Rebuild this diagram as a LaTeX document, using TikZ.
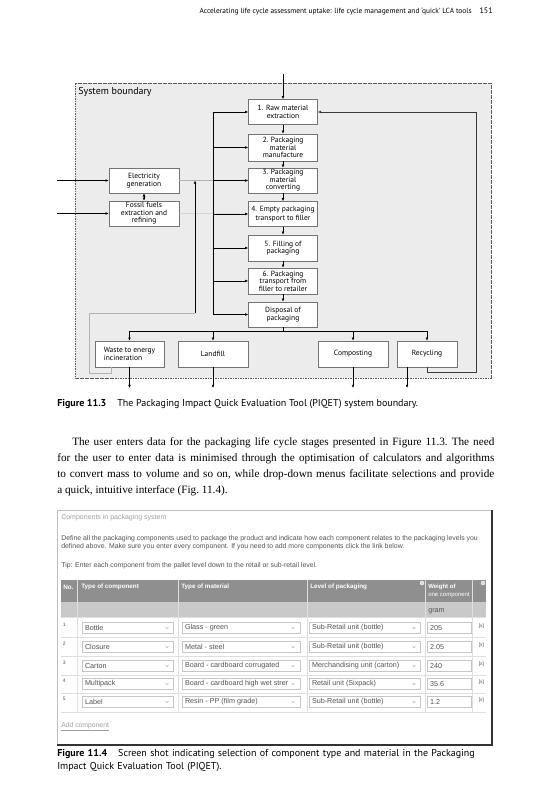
\documentclass[tikz,border=0pt]{standalone}
\usepackage{fontspec}
\setmainfont{Liberation Serif}
\setsansfont{PT Sans}
\newfontfamily\shotfont{Liberation Sans}
\usepackage{tikz}
\usetikzlibrary{arrows.meta,positioning}
\definecolor{bound}{gray}{0.925}
\definecolor{boxline}{gray}{0.45}
\definecolor{shottext}{gray}{0.33}
\definecolor{shothead}{gray}{0.56}
\definecolor{shotsub}{gray}{0.79}
\tikzstyle{stage}=[rectangle,draw=boxline,fill=white,minimum width=69pt,minimum height=25pt,inner sep=1pt,align=center,font=\sffamily\fontsize{7.5}{7.6}\selectfont]
\tikzstyle{feed}=[draw=gray!60,line width=1pt]
\tikzstyle{menu}=[rectangle,draw=gray!45,fill=white,minimum height=11pt,inner sep=0pt]
\tikzstyle{cell}=[font=\shotfont\fontsize{7.2}{7.5}\selectfont,text=shottext,anchor=west,inner sep=0pt]
\tikzstyle{headcell}=[font=\shotfont\bfseries\fontsize{6.3}{6.8}\selectfont,text=white,anchor=west,inner sep=0pt,align=left]

\begin{document}
\begin{tikzpicture}[x=1pt,y=-1pt,>={Latex[length=3.2pt,width=2.8pt]},line width=0.6pt]
\useasboundingbox (0,0) rectangle (548,800);

% running head
\node[anchor=east,inner sep=0pt,font=\sffamily\fontsize{7.4}{8}\selectfont] (head) at (472,11) {Accelerating life cycle assessment uptake: life cycle management and ‘quick’ LCA tools};
\node[anchor=east,inner sep=0pt,font=\sffamily\fontsize{8}{8}\selectfont] (folio) at (493,11) {151};

% system boundary
\draw[fill=bound,draw=gray!70!black,dash pattern=on 1.6pt off 0.9pt,line width=0.5pt] (75,83) rectangle (491,378);
\node[anchor=north west,inner sep=0pt,font=\sffamily\fontsize{10}{12}\selectfont] (sb) at (78,87) {System boundary};

% life cycle stages
\node[stage] (s1) at (283,112) {1. Raw material\\extraction};
\node[stage,minimum height=27pt] (s2) at (283,147.5) {2. Packaging\\material\\manufacture};
\node[stage] (s3) at (283,180.5) {3. Packaging\\material\\converting};
\node[stage] (s4) at (283,214) {4. Empty packaging\\[2pt]transport to filler};
\node[stage,minimum height=26pt] (s5) at (283,248) {5. Filling of\\packaging};
\node[stage,minimum height=26pt] (s6) at (283,281) {6. Packaging\\transport from\\filler to retailer};
\node[stage] (disp) at (283,314.5) {Disposal of\\packaging};

\node[stage,minimum width=70pt] (elec) at (144,180.5) {Electricity\\generation};
\node[stage,minimum width=70pt] (fossil) at (144,213.5) {Fossil fuels\\extraction and\\refining};

\node[stage,minimum height=26pt,align=left] (waste) at (129.5,354) {Waste to energy\\incineration};
\node[stage,minimum height=26pt,minimum width=70pt] (landfill) at (213,354) {Landfill};
\node[stage,minimum height=26pt,minimum width=70pt] (compost) at (353,354) {Composting};
\node[stage,minimum height=26pt,minimum width=60pt] (recycle) at (427,354) {Recycling};

% helper points
\coordinate (src) at (283,74);
\coordinate (bus) at (213,0);
\coordinate (inlet) at (57,0);
\coordinate (split) at (283,331);
\coordinate (outlet) at (0,388);
\coordinate (ret) at (89,313);
\coordinate (up) at (195,313);
\coordinate (loop) at (476,372);

% main chain
\draw[->] (src) -- (s1);
\draw[->] (s1) -- (s2);
\draw[->] (s2) -- (s3);
\draw[->] (s3) -- (s4);
\draw[->] (s4) -- (s5);
\draw[->] (s5) -- (s6);
\draw[->] (s6) -- (disp);

% energy inputs
\draw[->] (inlet |- elec.west) -- (elec.west);
\draw[->] (inlet |- fossil.west) -- (fossil.west);
\draw[<->] (elec) -- (fossil);
\draw[feed] (elec.east) -- (s3.west);
\draw[draw=gray!45,line width=0.5pt] (fossil.east) -- (s4.west);

% supply bus
\draw (bus |- s1.west) -- (bus |- disp.west);
\draw[->] (bus |- s1.west) -- (s1.west);
\draw[->] (bus |- s2.west) -- (s2.west);
\draw[->] (bus |- s3.west) -- (s3.west);
\draw[->] (bus |- s4.west) -- (s4.west);
\draw[->] (bus |- s5.west) -- (s5.west);
\draw[->] (bus |- s6.west) -- (s6.west);
\draw[->] (bus |- disp.west) -- (disp.west);

% end of life
\draw (disp) -- (split);
\draw (waste.north |- split) -- (recycle.north |- split);
\draw[->] (waste.north |- split) -- (waste.north);
\draw[->] (landfill.north |- split) -- (landfill.north);
\draw[->] (compost.north |- split) -- (compost.north);
\draw[->] (recycle.north |- split) -- (recycle.north);

\draw[->] (waste.south) -- (waste.south |- outlet);
\draw[->] (landfill.south) -- (landfill.south |- outlet);
\draw[->] (compost.south) -- (compost.south |- outlet);
\draw[->] ([xshift=-20pt]recycle.south) -- ([xshift=-20pt]recycle.south |- outlet);

% energy recovery and recycling loops
\draw[feed] ([xshift=-18.5pt]waste.south) -- ++(0,6) -| (ret) -- (up);
\draw[->] (up) -- (up |- elec.east);
\draw[->,draw=gray!45!black,line width=0.8pt] (recycle.south) |- (loop) |- (s1.east);

% caption 11.3
\node[anchor=west,inner sep=0pt,font=\sffamily\fontsize{10}{11}\selectfont] (cap1) at (57,404) {\textbf{Figure 11.3}\hspace{11pt}The Packaging Impact Quick Evaluation Tool (PIQET) system boundary.};

% body text
\node[anchor=north west,inner sep=0pt,text width=437pt,align=justify,font=\fontsize{11.2}{16}\selectfont] (body) at (57,437) {\frenchspacing\hspace*{15pt}The user enters data for the packaging life cycle stages presented in Figure 11.3. The need\linebreak for the user to enter data is minimised through the optimisation of calculators and algorithms\linebreak to convert mass to volume and so on, while drop-down menus facilitate selections and provide\linebreak a quick, intuitive interface (Fig.~11.4).};

% screen shot
\draw[draw=gray!50,fill=white,line width=0.5pt] (57,510) rectangle (492,745);
\draw[draw=gray!40!black,line width=1.2pt] (492,510) -- (492,745) -- (57,745);
\node[cell,text=gray!75,font=\shotfont\fontsize{7}{8}\selectfont] (title) at (61,518) {Components in packaging system};
\node[cell,font=\shotfont\fontsize{6.9}{7.8}\selectfont,align=left,anchor=north west] (desc) at (61,535) {Define all the packaging components used to package the product and indicate how each component relates to the packaging levels you\\defined above. Make sure you enter every component. If you need to add more components click the link below.};
\node[cell,font=\shotfont\fontsize{6.9}{7.8}\selectfont] (tip) at (61,566) {Tip: Enter each component from the pallet level down to the retail or sub-retail level.};

\fill[shothead] (61,580) rectangle (486,602);
\fill[shotsub] (61,602) rectangle (486,617);
\foreach \cx in {77,178,307,425,472}
  \draw[draw=gray!25,line width=0.4pt] (\cx,580) -- (\cx,712);
\foreach \ly in {617,637.5,656.5,675,693,712}
  \draw[draw=gray!25,line width=0.4pt] (61,\ly) -- (486,\ly);
\node[headcell] (hno) at (63,587) {No.};
\node[headcell] (hcomp) at (81,587) {Type of component};
\node[headcell] (hmat) at (181,587) {Type of material};
\node[headcell] (hlev) at (310,587) {Level of packaging};
\node[headcell,anchor=north west,font=\shotfont\bfseries\fontsize{6}{7.8}\selectfont] (hw) at (428,584) {Weight of\\{\mdseries one component}};
\draw[fill=gray!30,draw=white,line width=0.4pt] (422,583) circle (2pt);
\draw[fill=gray!30,draw=white,line width=0.4pt] (483,583) circle (2pt);
\node[cell] (gram) at (428,611) {gram};

\foreach \n/\comp/\mat/\lev/\w/\ry in {1/Bottle/Glass - green/Sub-Retail unit (bottle)/205/628,2/Closure/Metal - steel/Sub-Retail unit (bottle)/2.05/647,3/Carton/Board - cardboard corrugated/Merchandising unit (carton)/240/666,4/Multipack/Board - cardboard high wet strer/Retail unit (Sixpack)/35.6/684,5/Label/Resin - PP (film grade)/Sub-Retail unit (bottle)/1.2/702}{
  \node[cell,font=\shotfont\fontsize{5}{5}\selectfont] (no\n) at (62.5,\ry-3.5) {\n};
  \node[menu,minimum width=91pt] (comp\n) at (127.5,\ry) {};
  \node[cell] at ([xshift=3pt]comp\n.west) {\comp};
  \node[menu,minimum width=118pt] (mat\n) at (241,\ry) {};
  \node[cell] at ([xshift=3pt]mat\n.west) {\mat};
  \node[menu,minimum width=111pt] (lev\n) at (364.5,\ry) {};
  \node[cell] at ([xshift=3pt]lev\n.west) {\lev};
  \node[menu,minimum width=44pt] (w\n) at (449,\ry) {};
  \node[cell] at ([xshift=3pt]w\n.west) {\w};
  \draw[draw=gray!60,line width=0.5pt] (165.5,\ry-1) -- (167,\ry+0.7) -- (168.5,\ry-1);
  \draw[draw=gray!60,line width=0.5pt] (291.5,\ry-1) -- (293,\ry+0.7) -- (294.5,\ry-1);
  \draw[draw=gray!60,line width=0.5pt] (412.5,\ry-1) -- (414,\ry+0.7) -- (415.5,\ry-1);
  \node[cell,font=\shotfont\fontsize{5}{5}\selectfont] (del\n) at (478.5,\ry-1.5) {[x]};
}
\node[cell,text=gray!75,font=\shotfont\fontsize{6.8}{7}\selectfont] (add) at (61,727) {\underline{Add component}};

% caption 11.4
\node[anchor=north west,inner sep=0pt,text width=440pt,align=left,font=\sffamily\fontsize{10}{13.5}\selectfont] (cap2) at (57,749) {\textbf{Figure 11.4}\hspace{11pt}Screen shot indicating selection of component type and material in the Packaging\\Impact Quick Evaluation Tool (PIQET).};
\end{tikzpicture}
\end{document}
